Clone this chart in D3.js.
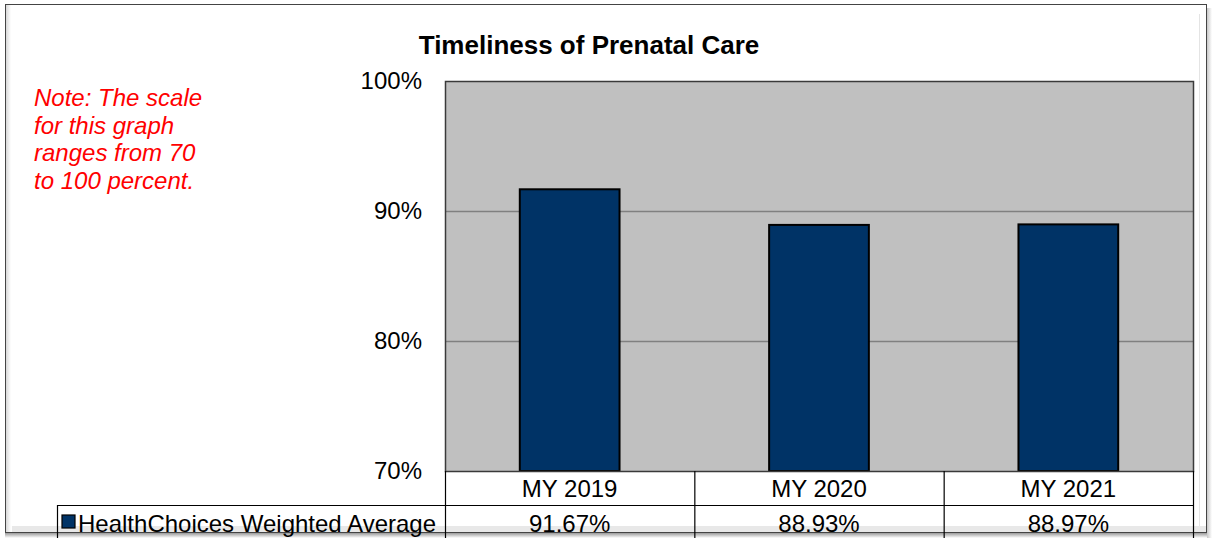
<!DOCTYPE html>
<html>
<head>
<meta charset="utf-8">
<script src="https://cdn.jsdelivr.net/npm/d3@7"></script>
<style>
  body { margin: 0; background: #fff; }
  svg { display: block; font-family: Arial, "Liberation Sans", sans-serif; }
</style>
</head>
<body>
<svg id="chart" width="1212" height="538"></svg>
<script>
const categories = ['MY 2019', 'MY 2020', 'MY 2021'];
const values = [91.67, 88.93, 88.97];
const yTicks = [70, 80, 90, 100];
const seriesName = 'HealthChoices Weighted Average';
const title = 'Timeliness of Prenatal Care';
const noteLines = ['Note: The scale', 'for this graph', 'ranges from 70', 'to 100 percent.'];

const svg = d3.select('#chart');
const plot = { left: 445, right: 1193, top: 81, bottom: 471 };
const fontSize = 24;

// frame with soft shadow
const defs = svg.append('defs');
const shadowB = defs.append('linearGradient').attr('id', 'shB').attr('x1', 0).attr('y1', 0).attr('x2', 0).attr('y2', 1);
shadowB.append('stop').attr('offset', 0).attr('stop-color', '#9a9a9a');
shadowB.append('stop').attr('offset', 1).attr('stop-color', '#ffffff');
const shadowR = defs.append('linearGradient').attr('id', 'shR').attr('x1', 0).attr('y1', 0).attr('x2', 1).attr('y2', 0);
shadowR.append('stop').attr('offset', 0).attr('stop-color', '#c8c8c8');
shadowR.append('stop').attr('offset', 1).attr('stop-color', '#ffffff');
const innerL = defs.append('linearGradient').attr('id', 'inL').attr('x1', 0).attr('y1', 0).attr('x2', 1).attr('y2', 0);
innerL.append('stop').attr('offset', 0).attr('stop-color', '#d8d8d8');
innerL.append('stop').attr('offset', 1).attr('stop-color', '#ffffff');

svg.append('rect').attr('x', 5).attr('y', 533).attr('width', 1207).attr('height', 5).attr('fill', 'url(#shB)');
svg.append('rect').attr('x', 1207).attr('y', 8).attr('width', 5).attr('height', 530).attr('fill', 'url(#shR)');
svg.append('rect').attr('x', 6).attr('y', 5).attr('width', 5).attr('height', 527).attr('fill', 'url(#inL)');
svg.append('rect').attr('x', 5.5).attr('y', 4.5).attr('width', 1201).attr('height', 528)
  .attr('fill', 'none').attr('stroke', '#444').attr('stroke-width', 1);
svg.append('rect').attr('x', 1199).attr('y', 14).attr('width', 1).attr('height', 518).attr('fill', '#e4e4e4');
svg.append('rect').attr('x', 12).attr('y', 526).attr('width', 1194).attr('height', 6).attr('fill', '#e8e8e8');

const x = d3.scaleBand().domain(categories).range([plot.left, plot.right]).paddingInner(0.6).paddingOuter(0.3);
const xCell = d3.scaleBand().domain(categories).range([plot.left, plot.right]);
const y = d3.scaleLinear().domain([70, 100]).range([plot.bottom, plot.top]);

// plot background
svg.append('rect')
  .attr('x', plot.left).attr('y', plot.top)
  .attr('width', plot.right - plot.left).attr('height', plot.bottom - plot.top)
  .attr('fill', '#c0c0c0');

// gridlines
svg.append('g')
  .selectAll('line')
  .data(yTicks.filter(t => t > 70 && t < 100))
  .join('line')
  .attr('x1', plot.left).attr('x2', plot.right)
  .attr('y1', d => Math.round(y(d)) + 0.5).attr('y2', d => Math.round(y(d)) + 0.5)
  .attr('stroke', '#808080').attr('stroke-width', 1.3);

// y axis labels
const yAxis = svg.append('g')
  .attr('transform', `translate(${plot.left},0)`)
  .call(d3.axisLeft(y).tickValues(yTicks).tickFormat(d => d + '%').tickSize(0).tickPadding(23));
yAxis.select('.domain').remove();
yAxis.selectAll('text').attr('font-size', fontSize).attr('fill', '#000').attr('font-family', 'Arial, "Liberation Sans", sans-serif');

// bars
svg.append('g')
  .selectAll('rect')
  .data(values)
  .join('rect')
  .attr('x', (d, i) => x(categories[i]))
  .attr('y', d => y(d))
  .attr('width', x.bandwidth())
  .attr('height', d => plot.bottom - y(d))
  .attr('fill', '#003366')
  .attr('stroke', '#000')
  .attr('stroke-width', 2);

// plot border
svg.append('rect')
  .attr('x', plot.left + 0.5).attr('y', plot.top + 0.5)
  .attr('width', plot.right - plot.left).attr('height', plot.bottom - plot.top)
  .attr('fill', 'none').attr('stroke', '#3a3a3a').attr('stroke-width', 1.5);

// title
svg.append('text')
  .attr('x', 589).attr('y', 54)
  .attr('text-anchor', 'middle')
  .attr('font-size', 26).attr('font-weight', 'bold')
  .text(title);

// note
svg.append('text')
  .attr('x', 34).attr('y', 106)
  .attr('fill', '#ff0000').attr('font-size', fontSize).attr('font-style', 'italic')
  .selectAll('tspan')
  .data(noteLines)
  .join('tspan')
  .attr('x', 34)
  .attr('dy', (d, i) => i === 0 ? 0 : 27.6)
  .text(d => d);

// data table
const rowTop = plot.bottom, rowMid = 505, rowBot = 540;
const table = svg.append('g').attr('stroke', '#000').attr('stroke-width', 1.2);
table.append('line').attr('x1', plot.left).attr('x2', plot.right).attr('y1', rowMid + 0.5).attr('y2', rowMid + 0.5);
table.append('line').attr('x1', 57).attr('x2', plot.left).attr('y1', rowMid + 0.5).attr('y2', rowMid + 0.5);
table.append('line').attr('x1', 57.5).attr('x2', 57.5).attr('y1', rowMid).attr('y2', rowBot);
table.selectAll('.col')
  .data(categories.concat(['end']))
  .join('line')
  .attr('class', 'col')
  .attr('x1', d => d === 'end' ? plot.right + 0.5 : xCell(d) + 0.5)
  .attr('x2', d => d === 'end' ? plot.right + 0.5 : xCell(d) + 0.5)
  .attr('y1', rowTop).attr('y2', rowBot);

svg.append('g')
  .selectAll('text')
  .data(categories)
  .join('text')
  .attr('x', d => xCell(d) + xCell.bandwidth() / 2)
  .attr('y', 497)
  .attr('text-anchor', 'middle')
  .attr('font-size', fontSize)
  .text(d => d);

svg.append('g')
  .selectAll('text')
  .data(values)
  .join('text')
  .attr('x', (d, i) => xCell(categories[i]) + xCell.bandwidth() / 2)
  .attr('y', 532)
  .attr('text-anchor', 'middle')
  .attr('font-size', fontSize)
  .text(d => d.toFixed(2) + '%');

svg.append('rect')
  .attr('x', 62).attr('y', 515).attr('width', 13).attr('height', 13)
  .attr('fill', '#003366').attr('stroke', '#000').attr('stroke-width', 1.2);
svg.append('text')
  .attr('x', 78).attr('y', 532)
  .attr('font-size', fontSize)
  .text(seriesName);
</script>
</body>
</html>
